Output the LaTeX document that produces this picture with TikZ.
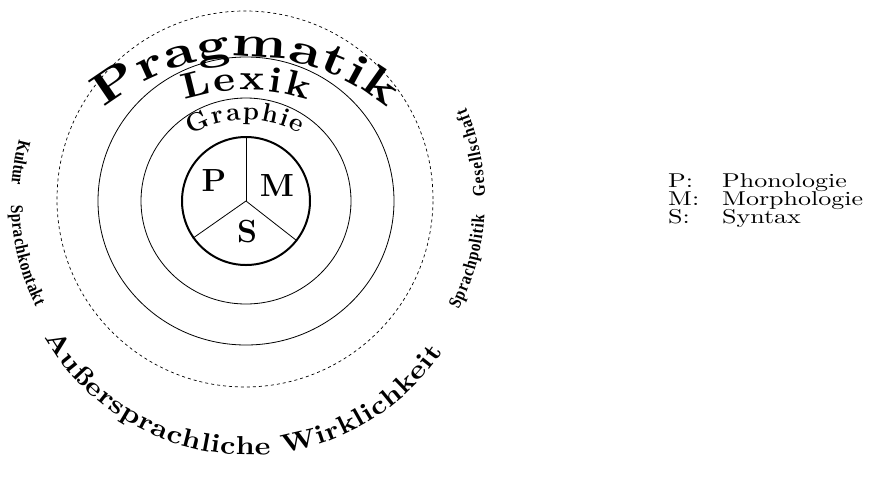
\documentclass[tikz,border=0pt]{standalone}
\usepackage{fontspec}
\newfontfamily\widefont{lmroman10-regular}[Extension=.otf, BoldFont=lmroman10-bold, FakeStretch=1.3]
\newfontfamily\midfont{lmroman10-regular}[Extension=.otf, BoldFont=lmroman10-bold, FakeStretch=1.15]
\newfontfamily\sidefont{Liberation Serif}[FakeStretch=0.85]
\usetikzlibrary{decorations.text}

\begin{document}
\begin{tikzpicture}[
    x=1pt, y=1pt,
    % --- Kreise ---
    ring/.style={draw, line width=0.8pt},
    coreRing/.style={draw, line width=2pt, circle, minimum size=128pt, inner sep=0pt},
    outerRing/.style={draw, line width=0.7pt, dash pattern=on 3pt off 3pt},
    divider/.style={line width=0.8pt},
    % --- Beschriftungen ---
    coreLabel/.style={font=\bfseries\fontsize{32}{32}\selectfont, inner sep=0pt},
    legendText/.style={anchor=base west, inner sep=0pt, font=\widefont\fontsize{20}{20}\selectfont},
    arcText/.style={decorate, decoration={text along path, text align=fit to path, text={#1}}}
]

    % ===========================
    % 1. MITTELPUNKTE
    % ===========================
    \coordinate (C)     at (246,-201);
    \coordinate (pragC) at (246,-277);
    \coordinate (lexC)  at (246,-290);
    \coordinate (graC)  at (246,-230);
    \coordinate (outC)  at (248,-220);
    \coordinate (sideC) at (248,-201);

    % ===========================
    % 2. KREISE
    % ===========================
    \draw[outerRing] (245,-199) circle[radius=188pt];
    \draw[ring] (C) ellipse[x radius=148pt, y radius=144pt];
    \draw[ring] (C) ellipse[x radius=105pt, y radius=103pt];

    \node[coreRing] (core) at (C) {};
    \draw[divider] (core.center) -- (core.90);
    \draw[divider] (core.center) -- (core.215);
    \draw[divider] (core.center) -- (core.322);

    \node[coreLabel] (P) at (214,-181) {P};
    \node[coreLabel] (M) at (277,-186) {M};
    \node[coreLabel] (S) at (247,-232) {S};

    % ===========================
    % 3. GEBOGENE TEXTE
    % ===========================
    \path[arcText={|\widefont\bfseries\fontsize{44}{44}\selectfont|Pragmatik}]
        (pragC) ++(130:220pt) arc[start angle=130, end angle=50, radius=220pt];
    \path[arcText={|\midfont\bfseries\fontsize{36}{36}\selectfont|Lexik}]
        (lexC) ++(108:200pt) arc[start angle=108, end angle=72, radius=200pt];
    \path[arcText={|\bfseries\fontsize{26}{26}\selectfont|Graphie}]
        (graC) ++(120:110pt) arc[start angle=120, end angle=61, radius=110pt];

    \path[arcText={|\midfont\bfseries\fontsize{26}{26}\selectfont|Außersprachliche Wirklichkeit}]
        (outC) ++(210:235pt) arc[start angle=210, end angle=326, radius=235pt];

    % Seitenbeschriftungen
    \path[arcText={|\sidefont\bfseries\fontsize{18}{18}\selectfont|Kultur}]
        (sideC) ++(165:237pt) arc[start angle=165, end angle=176, radius=237pt];
    \path[arcText={|\sidefont\bfseries\fontsize{18}{18}\selectfont|Sprachkontakt}]
        (sideC) ++(181:237pt) arc[start angle=181, end angle=206.5, radius=237pt];
    \path[arcText={|\sidefont\bfseries\fontsize{18}{18}\selectfont|Sprachpolitik}]
        (sideC) ++(-27.3:237pt) arc[start angle=-27.3, end angle=-3.4, radius=237pt];
    \path[arcText={|\sidefont\bfseries\fontsize{18}{18}\selectfont|Gesellschaft}]
        (sideC) ++(1:237pt) arc[start angle=1, end angle=23.2, radius=237pt];

    % ===========================
    % 4. LEGENDE
    % ===========================
    \node[legendText] (keyP) at (668,-187) {P:};
    \node[legendText] (keyM) at (668,-205) {M:};
    \node[legendText] (keyS) at (668,-223) {S:};
    \node[legendText] (valP) at (722,-187) {Phonologie};
    \node[legendText] (valM) at (722,-205) {Morphologie};
    \node[legendText] (valS) at (722,-223) {Syntax};

    \useasboundingbox (0,0) rectangle (873,-460);
\end{tikzpicture}
\end{document}
